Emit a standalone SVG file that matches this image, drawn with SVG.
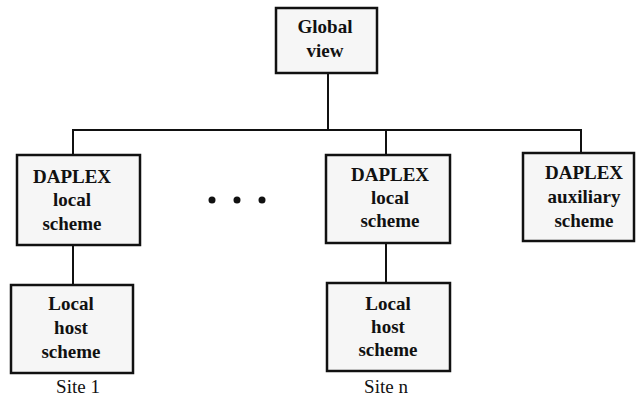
<svg xmlns="http://www.w3.org/2000/svg" width="636" height="401" viewBox="0 0 636 401">
<style>
.box{fill:#f6f6f6;stroke:#111;stroke-width:2.5}
.ln{stroke:#111;stroke-width:2;fill:none}
.t{font-family:"Liberation Serif","Times New Roman",serif;font-weight:bold;font-size:19px;fill:#111;text-anchor:middle}
.s{font-family:"Liberation Serif","Times New Roman",serif;font-size:19px;fill:#111;text-anchor:middle}
</style>
<rect width="636" height="401" fill="#fff"/>
<g id="connectors">
<line class="ln" x1="328" y1="73" x2="328" y2="130"/>
<line class="ln" x1="72" y1="130" x2="582" y2="130"/>
<line class="ln" x1="73" y1="130" x2="73" y2="155"/>
<line class="ln" x1="386" y1="130" x2="386" y2="155"/>
<line class="ln" x1="581" y1="130" x2="581" y2="153"/>
<line class="ln" x1="73" y1="245" x2="73" y2="285"/>
<line class="ln" x1="386" y1="243" x2="386" y2="283"/>
</g>
<g id="global">
<rect class="box" x="276" y="8" width="101" height="65"/>
<text class="t" x="325" y="33">Global</text>
<text class="t" x="325" y="57">view</text>
</g>
<g id="daplex1">
<rect class="box" x="17" y="155" width="123" height="90"/>
<text class="t" x="72" y="183">DAPLEX</text>
<text class="t" x="72" y="206">local</text>
<text class="t" x="72" y="230">scheme</text>
</g>
<g id="host1">
<rect class="box" x="11" y="285" width="122" height="88"/>
<text class="t" x="71" y="310">Local</text>
<text class="t" x="71" y="334">host</text>
<text class="t" x="71" y="358">scheme</text>
</g>
<text class="s" x="78" y="393">Site 1</text>
<g id="dots">
<circle cx="212" cy="200" r="3.5" fill="#111"/>
<circle cx="237" cy="200" r="3.5" fill="#111"/>
<circle cx="262" cy="200" r="3.5" fill="#111"/>
</g>
<g id="daplexn">
<rect class="box" x="326" y="155" width="124" height="88"/>
<text class="t" x="390" y="181">DAPLEX</text>
<text class="t" x="390" y="204">local</text>
<text class="t" x="390" y="227">scheme</text>
</g>
<g id="hostn">
<rect class="box" x="327" y="283" width="123" height="88"/>
<text class="t" x="388" y="310">Local</text>
<text class="t" x="388" y="333">host</text>
<text class="t" x="388" y="356">scheme</text>
</g>
<text class="s" x="386" y="393">Site n</text>
<g id="aux">
<rect class="box" x="523" y="153" width="111" height="88"/>
<text class="t" x="584" y="179">DAPLEX</text>
<text class="t" x="584" y="203">auxiliary</text>
<text class="t" x="584" y="227">scheme</text>
</g>
</svg>
